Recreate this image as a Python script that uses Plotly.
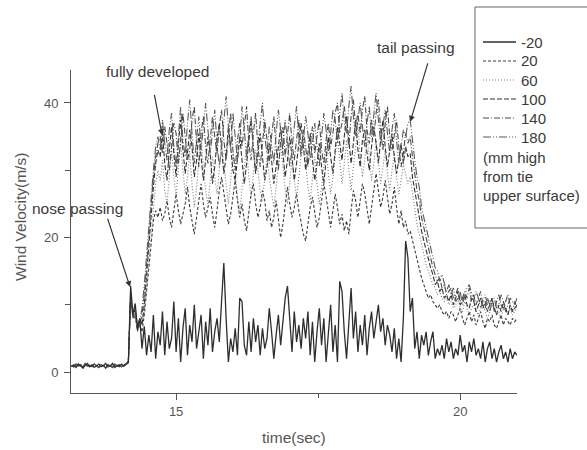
import numpy as np
import plotly.graph_objects as go

# time grid (s)
time_s = np.round(np.arange(13.16, 21.0001, 0.04), 2)

pre_low = [0.8, 1.1, 0.7, 1.2, 0.9, 0.6, 1.0, 1.3, 0.8, 1.1, 0.7, 0.9, 1.2, 0.8, 1.0, 0.6,
           1.1, 0.9, 1.3, 0.7, 1.0, 0.8, 1.2, 0.9, 1.1, 1.4]
pre_up = [1.0, 0.8, 1.2, 0.9, 1.1, 0.7, 1.3, 0.9, 1.0, 0.8, 1.2, 1.0, 0.7, 1.1, 0.9, 1.3,
          0.8, 1.0, 0.7, 1.2, 0.9, 1.1, 0.8, 1.0, 1.3, 1.6]

v_m20 = pre_low + [
    12.8, 8.5, 10.2, 6.5, 8.0, 3.5, 6.8, 2.5, 5.5, 3.0, 8.5, 2.0, 6.0, 4.0,
    9.0, 2.5, 7.5, 3.5, 5.0, 10.5, 3.0, 8.0, 1.5, 6.5, 9.5, 2.5, 7.0, 4.5, 10.0, 3.5,
    6.0, 8.5, 2.0, 7.5, 4.0, 9.5, 3.0, 6.0, 8.0, 4.5, 10.5, 16.2, 8.0, 1.5, 5.0, 3.0,
    6.5, 2.5, 11.0, 10.5, 4.0, 2.5, 7.5, 3.0, 8.0, 4.5, 7.0, 2.5, 6.5, 3.5, 5.0, 9.5,
    6.0, 2.0, 5.5, 8.5, 4.0, 7.5, 11.0, 12.8, 7.5, 3.0, 9.0, 4.5, 7.0, 3.5, 8.0, 5.0,
    9.0, 2.5, 7.5, 1.5, 6.0, 9.5, 4.0, 8.0, 1.5, 6.5, 10.0, 3.0, 7.0, 1.5, 13.5, 12.0,
    6.0, 2.0, 8.0, 12.5, 5.0, 9.0, 3.0, 7.0, 4.0, 8.5, 2.5, 6.5, 9.0, 5.0, 7.5, 10.0,
    6.0, 8.0, 4.0, 7.0, 5.5, 3.0, 6.5, 2.0, 5.0, 1.5, 8.0, 19.5, 17.0, 9.0, 11.0, 3.5,
    6.0, 2.0, 5.5, 4.0, 6.0, 2.5, 4.5, 6.0, 2.0, 3.5, 2.5, 4.0, 2.0, 5.0, 3.0, 4.5,
    2.0, 3.5, 2.5, 5.5, 3.0, 4.0, 1.5, 4.5, 3.0, 5.0, 2.5, 3.5, 2.0, 4.5, 1.5, 3.5,
    4.5, 2.0, 3.5, 1.5, 3.0, 4.0, 2.0, 3.0, 1.5, 3.5, 2.0, 3.0, 2.5]

v_180 = pre_up + [
    11.5, 8.0, 9.0, 6.5, 7.5, 9.5, 13.0, 17.5, 22.0, 26.5, 30.0, 33.5, 35.0,
    33.0, 37.5, 34.0, 31.5, 36.0, 38.5, 33.5, 30.5, 35.0, 39.5,
    34.5, 32.0, 37.0, 40.5, 35.5, 31.0, 34.5, 38.0, 33.0, 36.5,
    40.0, 36.0, 32.5, 35.5, 39.0, 34.0, 30.5, 33.5, 37.5, 41.0,
    36.5, 33.0, 38.5, 35.0, 31.5, 34.5, 39.5, 36.0, 32.0, 35.5,
    38.0, 33.5, 30.0, 34.0, 37.5, 40.0, 35.0, 32.5, 36.5, 34.0,
    31.0, 35.5, 39.0, 36.0, 33.0, 37.5, 34.5, 30.5, 33.0, 36.5,
    39.5, 35.0, 32.0, 34.5, 38.0, 35.5, 31.5, 34.0, 37.0, 33.5,
    30.5, 35.0, 38.5, 36.0, 32.5, 35.5, 39.0, 37.5, 34.0, 38.5,
    41.5, 37.0, 35.5, 39.5, 42.5, 38.0, 35.0, 37.5, 40.0, 36.5,
    33.5, 37.0, 39.5, 35.0, 38.0, 41.5, 37.5, 34.0, 36.5, 39.0,
    35.5, 32.5, 36.0, 38.5, 34.5, 31.0, 33.5, 36.0, 35.0, 37.0,
    37.5, 34.0, 31.5, 29.0, 27.5, 24.5, 23.0, 21.0, 19.5, 18.5, 16.5, 15.5, 15.0, 13.5,
    14.5, 13.0, 12.0,
    13.0, 11.5, 12.5, 10.5, 11.0, 12.0, 10.0, 11.5, 12.5, 13.0, 11.5, 10.5, 12.0, 11.0,
    9.5, 10.5, 11.5, 10.0, 9.0, 10.5, 11.0, 9.5, 10.0, 11.5, 10.5, 9.0, 10.0, 11.0,
    10.5, 10.0, 11.0]

v_140 = pre_up + [
    11.0, 8.5, 8.5, 7.0, 7.0, 8.5, 11.5, 16.0, 21.0, 25.0, 29.0, 32.0, 34.0,
    35.0, 32.5, 36.5, 34.0, 30.0, 33.5, 37.0, 35.5, 31.0, 34.5,
    38.5, 35.0, 31.5, 33.0, 37.5, 39.5, 34.0, 30.5, 35.5, 38.0,
    33.5, 31.0, 34.5, 38.0, 35.0, 32.5, 36.5, 39.0, 34.5, 31.5,
    35.0, 38.5, 33.0, 30.0, 34.5, 37.0, 33.5, 36.5, 39.5, 34.0,
    31.5, 35.5, 38.5, 33.5, 30.5, 34.0, 37.5, 34.5, 31.0, 35.0,
    38.0, 33.5, 30.0, 34.5, 36.5, 32.0, 35.5, 38.5, 34.0, 31.5,
    34.5, 37.5, 33.0, 36.0, 33.5, 30.5, 34.0, 36.5, 32.5, 35.0,
    37.5, 33.0, 31.0, 34.5, 37.0, 33.5, 35.5, 38.5, 40.0, 35.5,
    37.0, 39.5, 36.0, 33.5, 38.0, 40.5, 36.5, 38.5, 35.5, 39.0,
    41.0, 36.0, 34.0, 37.5, 35.0, 38.5, 40.5, 36.0, 33.0, 37.0,
    39.5, 35.0, 33.0, 35.5, 37.5, 33.5, 30.5, 32.5, 35.5, 34.0,
    35.0, 32.0, 29.5, 27.0, 25.5, 23.0, 21.5, 20.0, 18.0, 17.0, 15.5, 14.5, 13.5, 14.0,
    12.5, 13.0, 11.5,
    12.0, 12.5, 11.0, 11.5, 12.5, 10.5, 11.0, 12.0, 11.0, 12.5, 10.5, 11.5, 10.0, 11.0,
    12.0, 10.0, 9.5, 11.0, 10.0, 11.0, 9.0, 10.5, 11.5, 10.0, 9.5, 10.5, 11.5, 10.0,
    9.0, 10.5, 9.5]

v_100 = pre_up + [
    12.0, 8.0, 9.5, 6.0, 8.0, 7.0, 10.0, 14.5, 19.0, 23.5, 27.5, 31.0, 33.0,
    32.0, 35.5, 31.0, 28.5, 33.0, 36.5, 32.5, 29.0, 34.0, 37.5,
    33.0, 29.5, 32.5, 36.0, 33.5, 29.0, 31.5, 35.5, 32.0, 28.5,
    31.5, 35.0, 32.5, 28.0, 30.5, 34.5, 37.0, 33.0, 29.5, 32.0,
    36.5, 33.5, 30.0, 28.5, 32.0, 35.0, 31.5, 28.0, 31.0, 34.5,
    37.5, 33.0, 29.5, 32.5, 35.5, 32.0, 28.5, 30.5, 34.0, 31.5,
    28.0, 30.5, 34.0, 36.5, 32.5, 29.0, 31.5, 35.0, 32.0, 28.5,
    31.0, 34.5, 37.0, 33.5, 30.0, 32.5, 35.5, 31.5, 28.5, 31.0,
    34.0, 30.5, 28.0, 31.5, 35.0, 32.0, 29.5, 33.0, 36.5, 34.0,
    31.5, 35.0, 38.0, 34.5, 31.0, 34.0, 37.5, 33.0, 30.5, 34.5,
    36.0, 32.5, 30.0, 33.5, 36.5, 34.0, 31.0, 34.5, 37.5, 33.5,
    30.5, 33.0, 35.5, 32.0, 29.5, 31.5, 34.0, 31.0, 33.5, 32.0,
    32.5, 29.0, 27.0, 24.5, 23.0, 21.0, 19.5, 18.0, 16.5, 15.5, 14.5, 13.0, 13.5, 12.0,
    12.5, 11.0, 11.5,
    10.5, 11.5, 10.0, 11.0, 12.0, 10.0, 10.5, 11.5, 10.0, 9.5, 11.0, 10.5, 9.0, 10.0,
    11.0, 9.5, 10.5, 9.0, 10.0, 11.0, 9.5, 8.5, 10.0, 9.0, 10.5, 9.5, 8.5, 10.0,
    9.0, 9.5, 10.0]

v_60 = pre_up + [
    10.5, 9.0, 8.0, 7.5, 6.5, 7.5, 9.0, 12.5, 16.5, 21.0, 24.5, 28.0, 30.0,
    28.5, 31.5, 27.0, 25.0, 29.5, 33.0, 29.0, 26.0, 30.5, 34.0,
    30.0, 26.5, 29.0, 32.5, 28.0, 24.5, 27.5, 31.0, 35.0, 30.5,
    27.0, 25.0, 28.5, 32.0, 29.0, 26.5, 30.0, 34.5, 31.0, 27.5,
    25.0, 28.5, 32.5, 29.5, 26.0, 24.0, 27.5, 31.0, 33.5, 29.0,
    26.0, 29.5, 33.0, 30.0, 27.0, 25.5, 28.5, 32.0, 29.0, 26.5,
    24.5, 27.5, 31.0, 34.0, 30.5, 27.0, 25.0, 28.0, 31.5, 28.5,
    26.0, 29.0, 32.5, 35.5, 31.0, 27.5, 25.5, 29.0, 32.0, 28.0,
    25.0, 27.5, 30.5, 33.5, 29.5, 26.5, 29.0, 32.5, 35.0, 31.5,
    28.0, 31.0, 34.5, 30.0, 27.0, 30.5, 34.0, 36.5, 32.0, 29.0,
    31.5, 35.0, 32.0, 28.5, 31.0, 34.5, 31.5, 28.0, 30.5, 33.0,
    29.5, 27.0, 30.0, 32.5, 29.0, 26.5, 28.5, 31.0, 29.5, 28.0,
    29.0, 26.5, 24.0, 22.0, 20.5, 19.0, 17.5, 16.0, 15.0, 14.0, 13.0, 12.5, 11.5, 12.0,
    11.0, 10.5, 11.0,
    10.0, 10.5, 9.5, 10.0, 11.0, 9.5, 9.0, 10.5, 9.5, 8.5, 9.5, 10.0, 9.0, 8.5,
    9.5, 10.0, 9.0, 8.0, 9.0, 10.0, 9.5, 8.5, 9.0, 8.0, 9.5, 9.0, 8.5, 9.5,
    8.5, 9.0, 9.5]

v_20 = pre_up + [
    11.0, 8.5, 8.0, 6.5, 7.0, 6.0, 8.5, 12.0, 15.5, 19.5, 22.5, 24.0, 23.0,
    24.5, 22.5, 23.5, 25.5, 23.0, 21.5, 24.0, 26.5, 24.0, 22.0,
    23.5, 25.0, 27.5, 24.5, 22.5, 20.5, 23.0, 25.5, 28.0, 25.0,
    23.0, 24.5, 26.0, 23.5, 21.5, 24.0, 27.0, 29.0, 26.5, 24.0,
    22.0, 23.5, 26.0, 28.5, 25.5, 23.0, 25.0, 22.5, 21.0, 23.5,
    26.5, 28.0, 25.0, 23.0, 24.5, 27.0, 25.5, 22.5, 24.0, 21.5,
    23.0, 25.5, 22.5, 20.0, 22.0, 24.5, 27.5, 25.0, 23.0, 24.5,
    26.5, 24.0, 22.0, 20.5, 19.5, 22.0, 24.5, 26.0, 23.5, 21.5,
    23.0, 25.5, 28.0, 26.0, 23.5, 21.5, 24.0, 26.5, 24.5, 22.0,
    23.5, 21.0, 22.5, 20.5, 24.0, 27.0, 25.5, 23.0, 25.5, 28.0,
    26.5, 24.0, 22.0, 24.5, 27.5, 29.5, 27.0, 24.5, 26.0, 28.5,
    26.0, 23.5, 25.0, 27.5, 24.5, 22.0, 24.0, 21.5, 22.5, 20.5,
    21.0, 19.5, 18.0, 16.5, 15.0, 14.0, 13.0, 12.0, 11.0, 11.5, 10.5, 10.0, 9.5, 10.0,
    9.0, 8.5, 9.0,
    8.0, 9.0, 8.5, 7.5, 8.5, 9.5, 8.0, 7.0, 8.0, 9.0, 7.5, 8.5, 7.0, 8.0,
    9.0, 7.5, 6.5, 8.0, 7.5, 8.5, 7.0, 6.5, 7.5, 8.5, 7.0, 8.0, 7.5, 7.0,
    8.0, 7.5, 8.0]

legend_labels = ["-20", "20", "60", "100", "140", "180"]
legend_note = ["(mm high", "from tie", "upper surface)"]
x_tick_vals = [15, 20]
y_tick_vals = [0, 20, 40]

styles = {
    "20": dict(color="#3c3c3c", dash="3px,2px", width=1.1),
    "60": dict(color="#7a7a7a", dash="1px,2px", width=1.1),
    "100": dict(color="#333333", dash="5px,2px", width=1.1),
    "140": dict(color="#4a4a4a", dash="6px,2px,1px,2px", width=1.1),
    "180": dict(color="#5a5a5a", dash="8px,2px,1px,2px,1px,2px", width=1.1),
    "-20": dict(color="#2e2e2e", dash="solid", width=1.3),
}
series = {"20": v_20, "60": v_60, "100": v_100, "140": v_140, "180": v_180, "-20": v_m20}

fig = go.Figure()
for name in ["20", "60", "100", "140", "180", "-20"]:
    fig.add_trace(go.Scatter(x=time_s, y=series[name], mode="lines", name=name,
                             line=styles[name], showlegend=False))

FONT = "Liberation Sans, Arial, sans-serif"
TXT = "#3a3a3a"

L, R, T, B = 71, 517, 70, 393
W, H = R - L, B - T
def px(x):
    return (x - L) / W
def py(y):
    return (B - y) / H

fig.update_layout(
    width=587, height=450,
    margin=dict(l=L, r=587 - R, t=T, b=450 - B),
    paper_bgcolor="white", plot_bgcolor="white",
    font=dict(family=FONT, color=TXT, size=13),
    xaxis=dict(range=[13.15, 21.0], tickvals=x_tick_vals, ticks="outside", ticklen=6,
               tickcolor="#555", showline=True, linecolor="#555", linewidth=1,
               showgrid=False, zeroline=False, tickfont=dict(size=13, color="#555"),
               minor=dict(tickvals=[17.5], ticks="outside", ticklen=4, tickcolor="#555")),
    yaxis=dict(range=[-3.1, 44.9], tickvals=y_tick_vals, ticks="outside", ticklen=6,
               tickcolor="#555", showline=True, linecolor="#555", linewidth=1,
               showgrid=False, zeroline=False, tickfont=dict(size=13, color="#555"),
               ticklabelstandoff=3,
               minor=dict(tickvals=[10, 30], ticks="outside", ticklen=5, tickcolor="#555")),
)

def label(text, x, y, size=15.5, color=TXT, xanchor="center", **kw):
    return dict(text=text, x=px(x), y=py(y), xref="paper", yref="paper", showarrow=False,
                xanchor=xanchor, yanchor="middle", font=dict(size=size, color=color), **kw)

ann = []
ann.append(label("Wind Velocity(m/s)", 20, 217, color="#555", textangle=-90))
ann.append(label("time(sec)", 294, 437, color="#555"))
ann.append(label("fully developed", 157, 72))
ann.append(label("nose passing", 77, 208))
ann.append(label("tail passing", 416, 47))
for (tx, ty, ax, ay) in [(14.19, 12.64, -23, -70), (14.754, 35.2, -8, -42), (19.12, 37.2, 18, -60)]:
    ann.append(dict(x=tx, y=ty, xref="x", yref="y", text="", showarrow=True, ax=ax, ay=ay,
                    arrowhead=2, arrowsize=1, arrowwidth=1.2, arrowcolor="#333"))

shapes = [dict(type="rect", xref="paper", yref="paper", x0=px(475), x1=px(600),
               y0=py(228), y1=py(7), line=dict(color="#666", width=1), fillcolor="white",
               layer="above")]
rows = [42, 61, 80, 99, 118, 137]
for lab, yy in zip(legend_labels, rows):
    st = styles[lab]
    shapes.append(dict(type="line", xref="paper", yref="paper", x0=px(483), x1=px(516),
                       y0=py(yy), y1=py(yy), line=dict(color=st["color"], width=st["width"],
                                                        dash=st["dash"]), layer="above"))
    ann.append(label(lab, 519, yy, size=15, xanchor="left"))
for lab, yy in zip(legend_note, [157, 176, 195]):
    ann.append(label(lab, 481, yy, size=15, xanchor="left"))

fig.update_layout(annotations=ann, shapes=shapes)
fig.write_html("out.html")
